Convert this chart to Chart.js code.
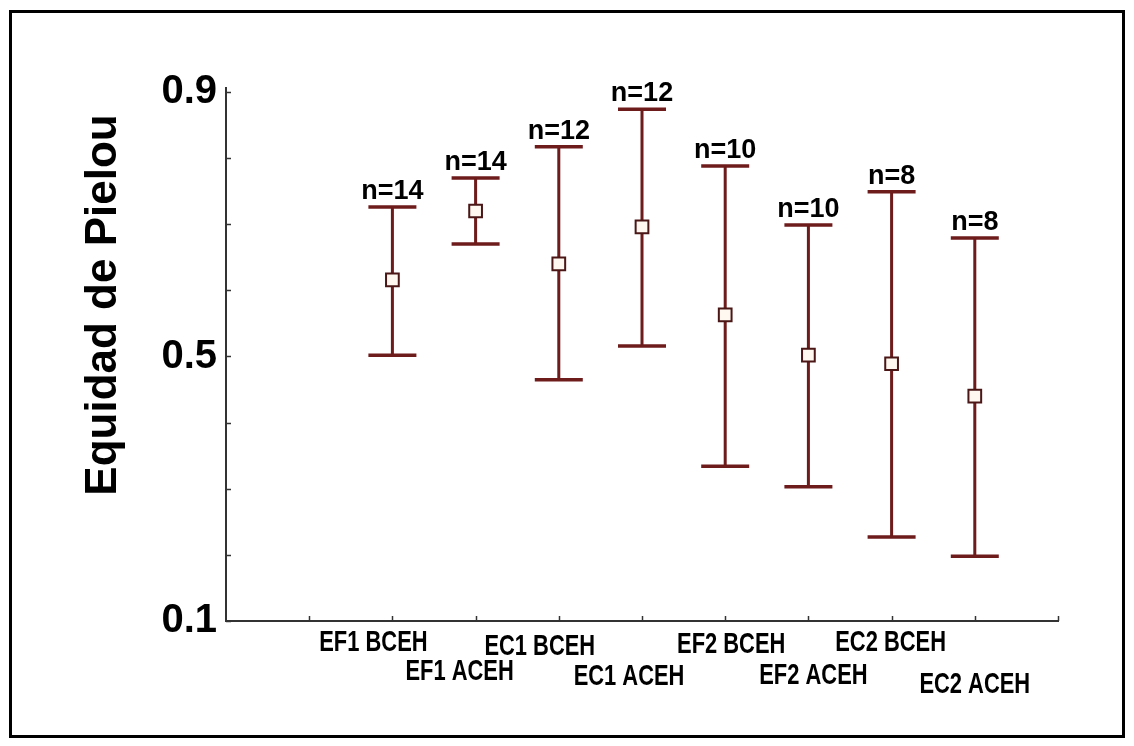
<!DOCTYPE html>
<html>
<head>
<meta charset="utf-8">
<script src="https://cdn.jsdelivr.net/npm/chart.js@4.4.1/dist/chart.umd.min.js"></script>
<style>
  html, body { margin: 0; padding: 0; background: #ffffff; }
  #wrap { width: 1134px; height: 746px; }
</style>
</head>
<body>
<div id="wrap"><canvas id="c" width="1134" height="746"></canvas></div>
<script>
// ---- data ----
const categories = ['EF1 BCEH', 'EF1 ACEH', 'EC1 BCEH', 'EC1 ACEH', 'EF2 BCEH', 'EF2 ACEH', 'EC2 BCEH', 'EC2 ACEH'];
const positions = [2, 3, 4, 5, 6, 7, 8, 9];
const meanValues = [0.616, 0.720, 0.640, 0.696, 0.563, 0.502, 0.489, 0.440];
const upperValues = [0.726, 0.770, 0.817, 0.874, 0.788, 0.699, 0.749, 0.679];
const lowerValues = [0.502, 0.670, 0.465, 0.516, 0.334, 0.303, 0.227, 0.198];
const sampleSizes = [14, 14, 12, 12, 10, 10, 8, 8];
const yTickValues = [0.1, 0.2, 0.3, 0.4, 0.5, 0.6, 0.7, 0.8, 0.9];
const yLabeledTicks = [0.1, 0.5, 0.9];
const xTickValues = [1, 2, 3, 4, 5, 6, 7, 8, 9, 10];
const yTitle = 'Equidad de Pielou';

// ---- styles ----
const barColor = '#6e1b1b';
const axisColor = '#333333';
// label placement (style only): [dx, dy] from the first label row
const labelShift = [[-19, 0], [-16, 29], [-19, 4], [-13, 34], [6, 2], [5, 33], [-1, 0], [0, 42]];

const whiskerData = [];
positions.forEach((p, i) => {
  whiskerData.push({x: p, y: lowerValues[i]});
  whiskerData.push({x: p, y: upperValues[i]});
  whiskerData.push({x: p, y: null});
});
const capData = [];
positions.forEach((p, i) => {
  capData.push({x: p, y: upperValues[i]});
  capData.push({x: p, y: lowerValues[i]});
});
const meanData = positions.map((p, i) => ({x: p, y: meanValues[i]}));

const framePlugin = {
  id: 'frame',
  beforeDraw(chart) {
    const ctx = chart.ctx;
    ctx.save();
    ctx.fillStyle = '#ffffff';
    ctx.fillRect(0, 0, chart.width, chart.height);
    ctx.strokeStyle = '#000000';
    ctx.lineWidth = 3;
    ctx.strokeRect(10.5, 11.5, 1113, 725);
    ctx.restore();
  }
};

const decorPlugin = {
  id: 'decor',
  afterDraw(chart) {
    const ctx = chart.ctx;
    const xs = chart.scales.x, ys = chart.scales.y;
    const area = chart.chartArea;
    ctx.save();
    // inward tick marks
    ctx.strokeStyle = axisColor;
    ctx.lineWidth = 1.5;
    yTickValues.forEach(v => {
      const y = Math.round(ys.getPixelForValue(v)) + 0.5;
      ctx.beginPath();
      ctx.moveTo(area.left, y);
      ctx.lineTo(area.left + 5, y);
      ctx.stroke();
    });
    xTickValues.forEach(v => {
      const x = Math.round(xs.getPixelForValue(v)) + 0.5;
      ctx.beginPath();
      ctx.moveTo(x, area.bottom);
      ctx.lineTo(x, area.bottom - 5);
      ctx.stroke();
    });
    // n labels
    ctx.fillStyle = '#000000';
    ctx.font = 'bold 27px "Liberation Sans", Arial, sans-serif';
    ctx.textAlign = 'center';
    ctx.textBaseline = 'alphabetic';
    positions.forEach((p, i) => {
      const x = xs.getPixelForValue(p);
      const y = ys.getPixelForValue(upperValues[i]) - 8;
      ctx.fillText('n=' + sampleSizes[i], x, y);
    });
    // category labels (condensed look)
    ctx.font = 'bold 30px "Liberation Sans", Arial, sans-serif';
    ctx.textBaseline = 'middle';
    positions.forEach((p, i) => {
      const x = xs.getPixelForValue(p) + labelShift[i][0];
      const y = area.bottom + 22 + labelShift[i][1];
      ctx.save();
      ctx.translate(x, y);
      ctx.scale(0.73, 1);
      ctx.fillText(categories[i], 0, 0);
      ctx.restore();
    });
    // y title
    ctx.font = 'bold 44px "Liberation Sans", Arial, sans-serif';
    ctx.textBaseline = 'alphabetic';
    ctx.translate(116, 305);
    ctx.rotate(-Math.PI / 2);
    ctx.fillText(yTitle, 0, 0);
    ctx.restore();
  }
};

new Chart(document.getElementById('c'), {
  type: 'scatter',
  data: {
    datasets: [
      {
        label: 'Media',
        data: meanData,
        pointStyle: 'rect',
        pointRadius: 9,
        pointHoverRadius: 9,
        backgroundColor: '#fff8f0',
        borderColor: '#4a1616',
        borderWidth: 2,
        order: 0
      },
      {
        label: 'Caps',
        data: capData,
        pointStyle: 'line',
        pointRadius: 24,
        pointHoverRadius: 24,
        borderColor: barColor,
        backgroundColor: barColor,
        borderWidth: 3.5,
        order: 1
      },
      {
        label: 'Intervalo',
        data: whiskerData,
        showLine: true,
        spanGaps: false,
        pointRadius: 0,
        borderColor: barColor,
        borderWidth: 3,
        order: 2
      }
    ]
  },
  options: {
    responsive: false,
    animation: false,
    devicePixelRatio: 1,
    layout: { padding: { top: 88, right: 76, left: 0, bottom: 0 } },
    plugins: {
      legend: { display: false },
      tooltip: { enabled: false },
      title: { display: false }
    },
    scales: {
      x: {
        type: 'linear',
        min: 0,
        max: 10,
        afterBuildTicks: s => { s.ticks = xTickValues.map(v => ({value: v})); },
        afterFit: s => { s.height = 125; },
        ticks: { display: false },
        grid: { display: false, drawTicks: false },
        border: { display: true, color: axisColor, width: 2 }
      },
      y: {
        type: 'linear',
        min: 0.1,
        max: 0.906,
        afterBuildTicks: s => { s.ticks = yTickValues.map(v => ({value: v})); },
        afterFit: s => { s.width = 226; },
        ticks: {
          padding: 9,
          color: '#000000',
          font: { family: '"Liberation Sans", Arial, sans-serif', size: 40, weight: 'bold' },
          callback: v => yLabeledTicks.some(t => Math.abs(t - v) < 1e-6) ? v.toFixed(1) : ''
        },
        grid: { display: false, drawTicks: false },
        border: { display: true, color: axisColor, width: 2 }
      }
    }
  },
  plugins: [framePlugin, decorPlugin]
});
</script>
</body>
</html>
